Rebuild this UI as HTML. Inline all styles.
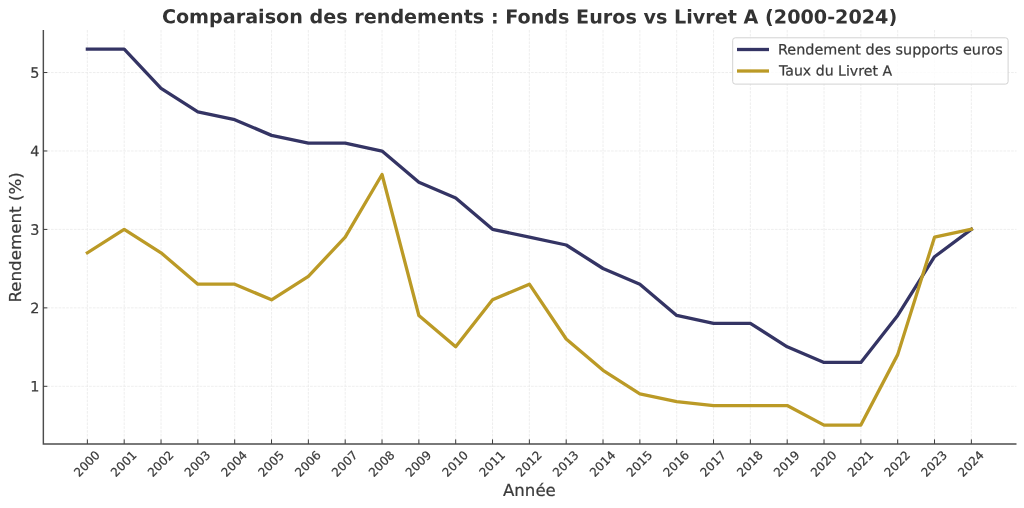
<!DOCTYPE html>
<html lang="fr"><head><meta charset="utf-8"><title>Comparaison des rendements</title>
<style>
html,body{margin:0;padding:0;background:#fff;}
body{width:1024px;height:508px;overflow:hidden;}
svg{display:block;}
text{font-family:"DejaVu Sans","Liberation Sans",sans-serif;fill:#3a3a3a;stroke:#3a3a3a;stroke-width:0.22px;}
</style></head><body>
<svg width="1024" height="508" viewBox="0 0 1024 508">
<rect width="1024" height="508" fill="#ffffff"/>

<g stroke="#ebebeb" stroke-width="0.85" stroke-dasharray="2.66 1.15" fill="none">
<line x1="87.37" y1="30.0" x2="87.37" y2="443.9"/>
<line x1="124.20" y1="30.0" x2="124.20" y2="443.9"/>
<line x1="161.04" y1="30.0" x2="161.04" y2="443.9"/>
<line x1="197.87" y1="30.0" x2="197.87" y2="443.9"/>
<line x1="234.70" y1="30.0" x2="234.70" y2="443.9"/>
<line x1="271.53" y1="30.0" x2="271.53" y2="443.9"/>
<line x1="308.37" y1="30.0" x2="308.37" y2="443.9"/>
<line x1="345.20" y1="30.0" x2="345.20" y2="443.9"/>
<line x1="382.03" y1="30.0" x2="382.03" y2="443.9"/>
<line x1="418.87" y1="30.0" x2="418.87" y2="443.9"/>
<line x1="455.70" y1="30.0" x2="455.70" y2="443.9"/>
<line x1="492.53" y1="30.0" x2="492.53" y2="443.9"/>
<line x1="529.37" y1="30.0" x2="529.37" y2="443.9"/>
<line x1="566.20" y1="30.0" x2="566.20" y2="443.9"/>
<line x1="603.03" y1="30.0" x2="603.03" y2="443.9"/>
<line x1="639.87" y1="30.0" x2="639.87" y2="443.9"/>
<line x1="676.70" y1="30.0" x2="676.70" y2="443.9"/>
<line x1="713.53" y1="30.0" x2="713.53" y2="443.9"/>
<line x1="750.36" y1="30.0" x2="750.36" y2="443.9"/>
<line x1="787.20" y1="30.0" x2="787.20" y2="443.9"/>
<line x1="824.03" y1="30.0" x2="824.03" y2="443.9"/>
<line x1="860.86" y1="30.0" x2="860.86" y2="443.9"/>
<line x1="897.70" y1="30.0" x2="897.70" y2="443.9"/>
<line x1="934.53" y1="30.0" x2="934.53" y2="443.9"/>
<line x1="971.36" y1="30.0" x2="971.36" y2="443.9"/>
<line x1="43.35" y1="386.30" x2="1016.5" y2="386.30"/>
<line x1="43.35" y1="307.86" x2="1016.5" y2="307.86"/>
<line x1="43.35" y1="229.42" x2="1016.5" y2="229.42"/>
<line x1="43.35" y1="150.98" x2="1016.5" y2="150.98"/>
<line x1="43.35" y1="72.54" x2="1016.5" y2="72.54"/>
</g>
<polyline points="87.37,49.22 124.20,49.22 161.04,88.37 197.87,111.86 234.70,119.70 271.53,135.36 308.37,143.19 345.20,143.19 382.03,151.02 418.87,182.34 455.70,198.01 492.53,229.33 529.37,237.16 566.20,244.99 603.03,268.49 639.87,284.15 676.70,315.47 713.53,323.30 750.36,323.30 787.20,346.79 824.03,362.46 860.86,362.46 897.70,315.47 934.53,256.74 971.36,229.33" fill="none" stroke="#343464" stroke-width="3.3" stroke-linejoin="round" stroke-linecap="square"/>
<polyline points="87.37,252.82 124.20,229.33 161.04,252.82 197.87,284.15 234.70,284.15 271.53,299.81 308.37,276.32 345.20,237.16 382.03,174.51 418.87,315.47 455.70,346.79 492.53,299.81 529.37,284.15 566.20,338.96 603.03,370.29 639.87,393.78 676.70,401.61 713.53,405.53 750.36,405.53 787.20,405.53 824.03,425.11 860.86,425.11 897.70,354.63 934.53,237.16 971.36,229.33" fill="none" stroke="#bb9a26" stroke-width="3.3" stroke-linejoin="round" stroke-linecap="square"/>
<g stroke="#4d4d4d" stroke-width="1.45" fill="none">
<polyline points="43.35,30.0 43.35,443.9 1016.5,443.9" stroke-linejoin="miter"/>
</g>
<g stroke="#3c3c3c" stroke-width="1.0" fill="none">
<line x1="87.37" y1="443.9" x2="87.37" y2="439.4"/>
<line x1="124.20" y1="443.9" x2="124.20" y2="439.4"/>
<line x1="161.04" y1="443.9" x2="161.04" y2="439.4"/>
<line x1="197.87" y1="443.9" x2="197.87" y2="439.4"/>
<line x1="234.70" y1="443.9" x2="234.70" y2="439.4"/>
<line x1="271.53" y1="443.9" x2="271.53" y2="439.4"/>
<line x1="308.37" y1="443.9" x2="308.37" y2="439.4"/>
<line x1="345.20" y1="443.9" x2="345.20" y2="439.4"/>
<line x1="382.03" y1="443.9" x2="382.03" y2="439.4"/>
<line x1="418.87" y1="443.9" x2="418.87" y2="439.4"/>
<line x1="455.70" y1="443.9" x2="455.70" y2="439.4"/>
<line x1="492.53" y1="443.9" x2="492.53" y2="439.4"/>
<line x1="529.37" y1="443.9" x2="529.37" y2="439.4"/>
<line x1="566.20" y1="443.9" x2="566.20" y2="439.4"/>
<line x1="603.03" y1="443.9" x2="603.03" y2="439.4"/>
<line x1="639.87" y1="443.9" x2="639.87" y2="439.4"/>
<line x1="676.70" y1="443.9" x2="676.70" y2="439.4"/>
<line x1="713.53" y1="443.9" x2="713.53" y2="439.4"/>
<line x1="750.36" y1="443.9" x2="750.36" y2="439.4"/>
<line x1="787.20" y1="443.9" x2="787.20" y2="439.4"/>
<line x1="824.03" y1="443.9" x2="824.03" y2="439.4"/>
<line x1="860.86" y1="443.9" x2="860.86" y2="439.4"/>
<line x1="897.70" y1="443.9" x2="897.70" y2="439.4"/>
<line x1="934.53" y1="443.9" x2="934.53" y2="439.4"/>
<line x1="971.36" y1="443.9" x2="971.36" y2="439.4"/>
<line x1="43.35" y1="386.30" x2="47.35" y2="386.30"/>
<line x1="43.35" y1="307.86" x2="47.35" y2="307.86"/>
<line x1="43.35" y1="229.42" x2="47.35" y2="229.42"/>
<line x1="43.35" y1="150.98" x2="47.35" y2="150.98"/>
<line x1="43.35" y1="72.54" x2="47.35" y2="72.54"/>
</g>
<g font-size="14.4" text-anchor="end">
<text transform="translate(39.4,391.60) rotate(0.05)">1</text>
<text transform="translate(39.4,313.16) rotate(0.05)">2</text>
<text transform="translate(39.4,234.72) rotate(0.05)">3</text>
<text transform="translate(39.4,156.28) rotate(0.05)">4</text>
<text transform="translate(39.4,77.84) rotate(0.05)">5</text>
</g>
<g font-size="12.0" text-anchor="middle">
<text transform="translate(86.72,463.5) rotate(-45)" y="4.4">2000</text>
<text transform="translate(123.55,463.5) rotate(-45)" y="4.4">2001</text>
<text transform="translate(160.39,463.5) rotate(-45)" y="4.4">2002</text>
<text transform="translate(197.22,463.5) rotate(-45)" y="4.4">2003</text>
<text transform="translate(234.05,463.5) rotate(-45)" y="4.4">2004</text>
<text transform="translate(270.88,463.5) rotate(-45)" y="4.4">2005</text>
<text transform="translate(307.72,463.5) rotate(-45)" y="4.4">2006</text>
<text transform="translate(344.55,463.5) rotate(-45)" y="4.4">2007</text>
<text transform="translate(381.38,463.5) rotate(-45)" y="4.4">2008</text>
<text transform="translate(418.22,463.5) rotate(-45)" y="4.4">2009</text>
<text transform="translate(455.05,463.5) rotate(-45)" y="4.4">2010</text>
<text transform="translate(491.88,463.5) rotate(-45)" y="4.4">2011</text>
<text transform="translate(528.72,463.5) rotate(-45)" y="4.4">2012</text>
<text transform="translate(565.55,463.5) rotate(-45)" y="4.4">2013</text>
<text transform="translate(602.38,463.5) rotate(-45)" y="4.4">2014</text>
<text transform="translate(639.22,463.5) rotate(-45)" y="4.4">2015</text>
<text transform="translate(676.05,463.5) rotate(-45)" y="4.4">2016</text>
<text transform="translate(712.88,463.5) rotate(-45)" y="4.4">2017</text>
<text transform="translate(749.71,463.5) rotate(-45)" y="4.4">2018</text>
<text transform="translate(786.55,463.5) rotate(-45)" y="4.4">2019</text>
<text transform="translate(823.38,463.5) rotate(-45)" y="4.4">2020</text>
<text transform="translate(860.21,463.5) rotate(-45)" y="4.4">2021</text>
<text transform="translate(897.05,463.5) rotate(-45)" y="4.4">2022</text>
<text transform="translate(933.88,463.5) rotate(-45)" y="4.4">2023</text>
<text transform="translate(970.71,463.5) rotate(-45)" y="4.4">2024</text>
</g>
<text transform="translate(529.4,496.0) rotate(0.03)" font-size="16.6" text-anchor="middle">Année</text>
<text transform="translate(21.2,237.4) rotate(-90)" font-size="16.7" text-anchor="middle">Rendement (%)</text>
<text transform="translate(529.55,23.4) rotate(0.03)" font-size="19.17" font-weight="bold" style="stroke:none;fill:#333333" text-anchor="middle">Comparaison des rendements : Fonds Euros vs Livret A (2000-2024)</text>
<rect x="732.7" y="37.8" width="275.4" height="46.3" rx="2.6" ry="2.6" fill="#ffffff" fill-opacity="0.8" stroke="#d2d2d2" stroke-width="1"/>
<line x1="737" y1="49.5" x2="769" y2="49.5" stroke="#343464" stroke-width="3.3"/>
<line x1="737" y1="71" x2="769" y2="71" stroke="#bb9a26" stroke-width="3.3"/>
<text transform="translate(778.0,54.45) rotate(0.03)" font-size="14.4">Rendement des supports euros</text>
<text transform="translate(779.0,75.6) rotate(0.03)" font-size="14.12">Taux du Livret A</text>
</svg></body></html>
